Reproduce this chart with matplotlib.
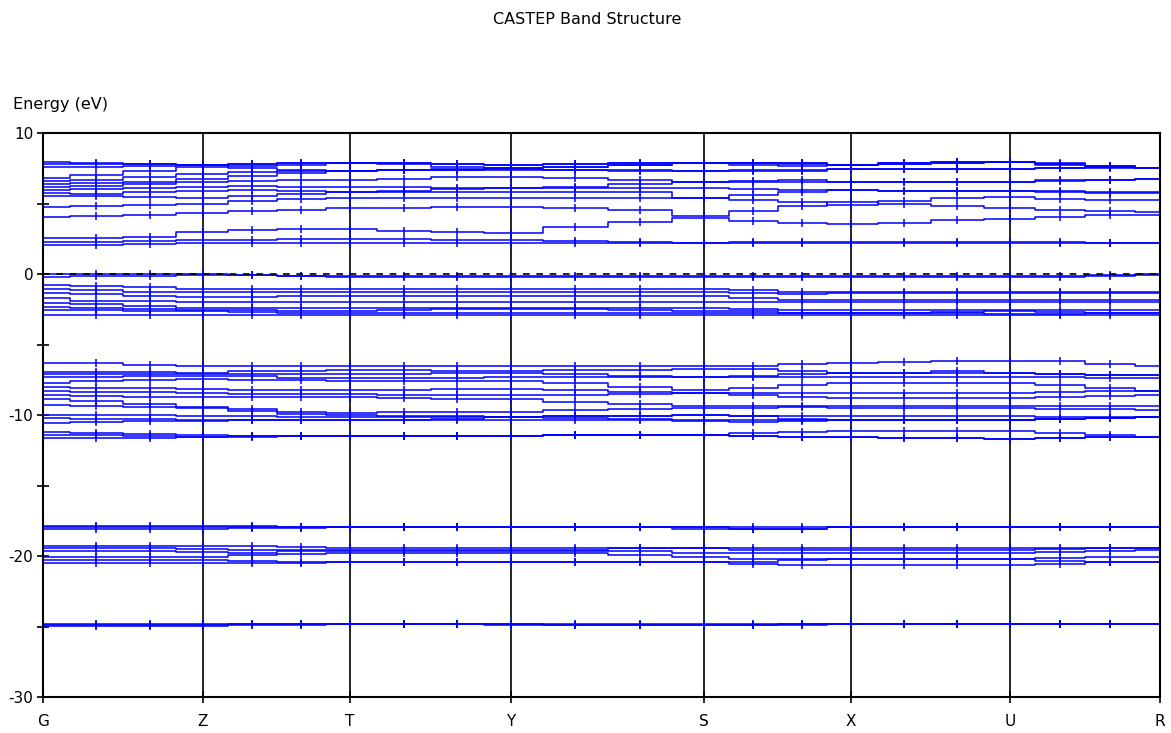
import numpy as np
import matplotlib
matplotlib.use('Agg')
import matplotlib.pyplot as plt

plt.rcParams['axes.unicode_minus'] = False

# high-symmetry points and path distances (1/A)
labels = ['G', 'Z', 'T', 'Y', 'S', 'X', 'U', 'R']
kdist = [0.0, 0.160, 0.307, 0.468, 0.661, 0.808, 0.967, 1.117]
n_per_seg = 3  # k-points between two labels

# band energies (eV) at the 22 k-points:
# G . . Z . . T . . Y . . S . . X . . U . . R
conduction = [
    [2.06, 2.06, 2.10, 2.20, 2.20, 2.20, 2.22, 2.22, 2.22, 2.22, 2.22, 2.22, 2.22, 2.22, 2.22, 2.22, 2.22, 2.22, 2.22, 2.22, 2.20, 2.18],
    [2.29, 2.29, 2.32, 2.38, 2.42, 2.45, 2.46, 2.46, 2.43, 2.41, 2.35, 2.28, 2.22, 2.25, 2.30, 2.30, 2.30, 2.30, 2.30, 2.25, 2.22, 2.20],
    [2.57, 2.55, 2.65, 2.95, 3.10, 3.20, 3.19, 3.05, 2.95, 2.93, 3.30, 3.70, 3.95, 3.75, 3.60, 3.55, 3.65, 3.80, 3.88, 4.05, 4.15, 4.18],
    [4.06, 4.10, 4.20, 4.30, 4.45, 4.55, 4.66, 4.70, 4.73, 4.73, 4.65, 4.55, 4.11, 4.50, 4.85, 5.13, 5.00, 4.80, 4.66, 4.55, 4.45, 4.42],
    [4.73, 4.80, 4.90, 5.00, 5.15, 5.30, 5.41, 5.38, 5.37, 5.37, 5.37, 5.37, 5.37, 5.25, 5.10, 4.89, 5.20, 5.40, 5.48, 5.35, 5.28, 5.25],
    [5.53, 5.50, 5.45, 5.40, 5.55, 5.70, 5.84, 5.84, 5.84, 5.84, 5.84, 5.84, 5.37, 5.60, 5.80, 5.96, 5.90, 5.90, 5.90, 5.85, 5.75, 5.72],
    [5.72, 5.70, 5.80, 5.90, 5.95, 5.90, 5.84, 5.90, 6.00, 6.08, 6.08, 6.08, 6.08, 6.00, 5.96, 5.96, 5.92, 5.90, 5.90, 5.88, 5.85, 5.84],
    [5.96, 6.00, 6.10, 6.20, 6.25, 6.20, 6.19, 6.15, 6.10, 6.08, 6.20, 6.35, 6.55, 6.55, 6.55, 6.55, 6.55, 6.55, 6.55, 6.60, 6.70, 6.72],
    [6.19, 6.25, 6.35, 6.50, 6.60, 6.65, 6.67, 6.75, 6.85, 6.90, 6.80, 6.65, 6.55, 6.60, 6.65, 6.55, 6.55, 6.55, 6.55, 6.65, 6.70, 6.72],
    [6.36, 6.45, 6.55, 6.75, 6.95, 7.15, 7.30, 7.35, 7.38, 7.38, 7.35, 7.32, 7.30, 7.35, 7.40, 7.42, 7.44, 7.45, 7.45, 7.50, 7.52, 7.54],
    [6.62, 6.70, 6.90, 7.10, 7.25, 7.30, 7.30, 7.40, 7.45, 7.50, 7.60, 7.75, 7.85, 7.75, 7.65, 7.73, 7.80, 7.88, 7.92, 7.70, 7.60, 7.54],
    [6.79, 7.00, 7.30, 7.60, 7.65, 7.75, 7.85, 7.80, 7.60, 7.50, 7.60, 7.75, 7.85, 7.85, 7.80, 7.73, 7.80, 7.88, 7.92, 7.85, 7.60, 7.54],
    [7.57, 7.60, 7.65, 7.70, 7.55, 7.40, 7.30, 7.35, 7.40, 7.45, 7.40, 7.35, 7.30, 7.30, 7.30, 7.42, 7.45, 7.45, 7.45, 7.55, 7.60, 7.54],
    [7.80, 7.80, 7.78, 7.75, 7.80, 7.85, 7.85, 7.85, 7.80, 7.75, 7.80, 7.85, 7.85, 7.88, 7.90, 7.73, 7.85, 7.92, 7.95, 7.80, 7.65, 7.54],
    [7.96, 7.90, 7.80, 7.75, 7.80, 7.85, 7.85, 7.85, 7.80, 7.75, 7.80, 7.85, 7.85, 7.88, 7.90, 7.73, 7.85, 7.92, 7.95, 7.80, 7.65, 7.54],
]

valence_top = [
    [0.00, 0.00, 0.00, 0.00, -0.05, -0.15, -0.15, -0.15, -0.15, -0.15, -0.15, -0.15, -0.15, -0.15, -0.15, -0.15, -0.15, -0.15, -0.15, -0.15, -0.05, 0.00],
    [-0.19, -0.15, -0.12, -0.10, -0.10, -0.15, -0.19, -0.19, -0.19, -0.19, -0.19, -0.19, -0.19, -0.19, -0.19, -0.19, -0.19, -0.19, -0.19, -0.19, -0.15, -0.10],
    [-0.78, -0.85, -0.95, -1.05, -1.05, -1.09, -1.09, -1.09, -1.09, -1.09, -1.09, -1.09, -1.09, -1.15, -1.25, -1.25, -1.25, -1.25, -1.25, -1.25, -1.25, -1.25],
    [-1.06, -1.10, -1.25, -1.30, -1.30, -1.30, -1.30, -1.30, -1.30, -1.30, -1.30, -1.30, -1.30, -1.37, -1.40, -1.37, -1.37, -1.37, -1.37, -1.37, -1.37, -1.37],
    [-1.37, -1.45, -1.55, -1.60, -1.60, -1.58, -1.56, -1.56, -1.56, -1.56, -1.56, -1.56, -1.56, -1.70, -1.84, -1.84, -1.84, -1.84, -1.84, -1.84, -1.84, -1.84],
    [-1.72, -1.90, -1.95, -1.96, -1.96, -1.96, -1.96, -1.96, -1.96, -1.96, -1.96, -1.96, -1.96, -1.96, -1.96, -1.96, -1.96, -1.96, -1.96, -1.96, -1.96, -1.96],
    [-2.08, -2.10, -2.30, -2.40, -2.40, -2.40, -2.40, -2.40, -2.40, -2.40, -2.40, -2.40, -2.40, -2.45, -2.55, -2.55, -2.55, -2.55, -2.55, -2.55, -2.55, -2.55],
    [-2.36, -2.40, -2.50, -2.55, -2.55, -2.60, -2.60, -2.55, -2.50, -2.50, -2.50, -2.55, -2.60, -2.65, -2.74, -2.74, -2.74, -2.70, -2.65, -2.70, -2.74, -2.74],
    [-2.55, -2.55, -2.60, -2.65, -2.70, -2.74, -2.74, -2.74, -2.74, -2.74, -2.74, -2.74, -2.74, -2.74, -2.74, -2.74, -2.74, -2.80, -2.85, -2.85, -2.80, -2.74],
    [-2.91, -2.91, -2.91, -2.91, -2.91, -2.91, -2.91, -2.91, -2.91, -2.91, -2.91, -2.91, -2.91, -2.91, -2.91, -2.91, -2.91, -2.91, -2.91, -2.91, -2.91, -2.91],
]

valence_mid = [
    [-6.34, -6.34, -6.45, -6.50, -6.50, -6.52, -6.52, -6.52, -6.52, -6.52, -6.52, -6.52, -6.52, -6.50, -6.40, -6.29, -6.25, -6.20, -6.15, -6.20, -6.35, -6.52],
    [-6.95, -6.95, -6.95, -7.00, -6.90, -6.85, -6.81, -6.84, -6.86, -6.86, -6.84, -6.80, -6.76, -6.76, -6.90, -7.04, -7.00, -6.90, -7.04, -7.10, -7.14, -7.16],
    [-7.10, -7.10, -7.10, -7.10, -7.10, -7.10, -7.09, -7.06, -7.04, -7.04, -7.10, -7.20, -7.33, -7.20, -7.10, -7.04, -7.04, -7.04, -7.04, -7.10, -7.14, -7.16],
    [-7.30, -7.30, -7.25, -7.20, -7.25, -7.35, -7.40, -7.38, -7.35, -7.33, -7.33, -7.33, -7.33, -7.30, -7.33, -7.33, -7.30, -7.28, -7.28, -7.32, -7.38, -7.40],
    [-7.70, -7.60, -7.50, -7.45, -7.50, -7.55, -7.57, -7.57, -7.57, -7.57, -7.75, -8.00, -8.20, -8.05, -7.90, -7.75, -7.75, -7.75, -7.75, -7.90, -8.10, -8.28],
    [-8.00, -8.05, -8.10, -8.15, -8.20, -8.23, -8.23, -8.20, -8.18, -8.18, -8.25, -8.35, -8.46, -8.46, -8.46, -8.46, -8.46, -8.46, -8.46, -8.40, -8.32, -8.28],
    [-8.30, -8.35, -8.40, -8.45, -8.50, -8.51, -8.51, -8.55, -8.58, -8.58, -8.55, -8.50, -8.46, -8.60, -8.75, -8.82, -8.82, -8.82, -8.82, -8.75, -8.65, -8.60],
    [-8.60, -8.65, -8.70, -8.74, -8.74, -8.74, -8.74, -8.80, -8.89, -8.89, -9.05, -9.20, -9.36, -9.36, -9.36, -9.36, -9.38, -9.39, -9.39, -9.38, -9.37, -9.36],
    [-8.90, -9.00, -9.20, -9.40, -9.60, -9.80, -9.88, -9.80, -9.77, -9.77, -9.65, -9.55, -9.52, -9.50, -9.45, -9.50, -9.50, -9.50, -9.50, -9.55, -9.60, -9.65],
    [-9.30, -9.35, -9.40, -9.50, -9.70, -9.90, -10.00, -10.05, -10.10, -10.16, -10.10, -10.05, -10.00, -10.05, -10.07, -10.07, -10.10, -10.10, -10.10, -10.12, -10.14, -10.16],
    [-10.00, -10.00, -10.00, -10.05, -10.10, -10.15, -10.16, -10.16, -10.16, -10.16, -10.10, -10.05, -10.00, -10.10, -10.25, -10.35, -10.35, -10.35, -10.35, -10.30, -10.20, -10.16],
    [-10.20, -10.25, -10.30, -10.35, -10.35, -10.35, -10.35, -10.35, -10.30, -10.16, -10.20, -10.30, -10.40, -10.50, -10.45, -10.35, -10.35, -10.35, -10.35, -10.30, -10.20, -10.16],
    [-10.54, -10.50, -10.45, -10.40, -10.38, -10.36, -10.35, -10.35, -10.35, -10.35, -10.35, -10.35, -10.35, -10.35, -10.35, -10.35, -10.35, -10.35, -10.35, -10.30, -10.20, -10.16],
    [-11.18, -11.25, -11.35, -11.45, -11.49, -11.49, -11.49, -11.49, -11.49, -11.49, -11.45, -11.42, -11.42, -11.30, -11.18, -11.11, -11.11, -11.11, -11.11, -11.30, -11.45, -11.54],
    [-11.40, -11.45, -11.50, -11.55, -11.50, -11.49, -11.49, -11.49, -11.49, -11.49, -11.45, -11.42, -11.42, -11.50, -11.55, -11.58, -11.62, -11.65, -11.68, -11.62, -11.58, -11.54],
    [-11.65, -11.62, -11.60, -11.58, -11.55, -11.50, -11.49, -11.49, -11.49, -11.49, -11.45, -11.42, -11.42, -11.50, -11.55, -11.58, -11.62, -11.65, -11.68, -11.62, -11.58, -11.54],
]

semicore = [
    [-17.85, -17.85, -17.85, -17.87, -17.90, -17.93, -17.95, -17.95, -17.95, -17.95, -17.95, -17.95, -17.95, -17.95, -17.95, -17.95, -17.95, -17.95, -17.95, -17.95, -17.95, -17.95],
    [-17.95, -17.95, -17.95, -17.95, -17.95, -17.95, -17.95, -17.95, -17.95, -17.95, -17.95, -17.95, -17.95, -18.05, -18.05, -17.95, -17.95, -17.95, -17.95, -17.95, -17.95, -17.95],
    [-18.05, -18.05, -18.05, -18.05, -18.02, -17.98, -17.95, -17.95, -17.95, -17.95, -17.95, -17.95, -18.05, -18.05, -18.05, -17.95, -17.95, -17.95, -17.95, -17.95, -17.95, -17.95],
    [-19.29, -19.29, -19.29, -19.29, -19.29, -19.35, -19.45, -19.45, -19.45, -19.45, -19.45, -19.45, -19.40, -19.40, -19.40, -19.40, -19.40, -19.40, -19.40, -19.40, -19.40, -19.45],
    [-19.45, -19.45, -19.45, -19.50, -19.55, -19.55, -19.60, -19.60, -19.60, -19.60, -19.60, -19.45, -19.45, -19.57, -19.57, -19.57, -19.57, -19.57, -19.57, -19.50, -19.45, -19.45],
    [-19.62, -19.62, -19.62, -19.70, -19.80, -19.65, -19.62, -19.62, -19.62, -19.62, -19.62, -19.65, -19.76, -19.76, -19.76, -19.76, -19.76, -19.76, -19.76, -19.70, -19.62, -19.60],
    [-20.09, -20.09, -20.09, -20.05, -19.95, -19.85, -19.80, -19.80, -19.80, -19.80, -19.80, -19.90, -20.10, -20.20, -20.23, -20.23, -20.23, -20.23, -20.23, -20.15, -20.10, -20.05],
    [-20.28, -20.28, -20.28, -20.28, -20.35, -20.45, -20.45, -20.45, -20.45, -20.45, -20.45, -20.45, -20.45, -20.40, -20.30, -20.23, -20.23, -20.23, -20.23, -20.35, -20.45, -20.45],
    [-20.52, -20.52, -20.52, -20.52, -20.50, -20.48, -20.45, -20.45, -20.45, -20.45, -20.45, -20.45, -20.45, -20.55, -20.64, -20.64, -20.64, -20.64, -20.64, -20.55, -20.45, -20.45],
    [-24.80, -24.80, -24.80, -24.80, -24.80, -24.80, -24.80, -24.80, -24.80, -24.80, -24.80, -24.80, -24.80, -24.80, -24.80, -24.80, -24.80, -24.80, -24.80, -24.80, -24.80, -24.80],
    [-24.88, -24.88, -24.88, -24.88, -24.85, -24.82, -24.80, -24.80, -24.80, -24.85, -24.88, -24.88, -24.88, -24.88, -24.85, -24.80, -24.80, -24.80, -24.80, -24.80, -24.80, -24.80],
    [-24.95, -24.95, -24.95, -24.95, -24.92, -24.88, -24.85, -24.85, -24.85, -24.88, -24.92, -24.92, -24.92, -24.92, -24.88, -24.80, -24.80, -24.80, -24.80, -24.80, -24.80, -24.80],
]

bands = conduction + valence_top + valence_mid + semicore

# k-point positions along the path
kx = [kdist[0]]
for a, b in zip(kdist[:-1], kdist[1:]):
    kx.extend(np.linspace(a, b, n_per_seg + 1)[1:])
kx = np.array(kx)

fig = plt.figure(figsize=(11.71, 7.33), dpi=100)
ax = fig.add_axes([43 / 1171, 36 / 733, 1117 / 1171, 564 / 733])

for e in bands:
    ax.plot(kx, e, color='#0000ff', lw=1.1, drawstyle='steps-mid',
            marker='|', ms=6, mew=1.1, zorder=2)

ax.axhline(0, color='black', ls=(0, (4, 4)), lw=1.2, zorder=3)
for k in kdist[1:-1]:
    ax.axvline(k, color='black', lw=1.2, zorder=1)

ax.set_xlim(kdist[0], kdist[-1])
ax.set_ylim(-30, 10)
ax.set_xticks(kdist)
ax.set_xticklabels(labels)
ax.set_yticks([-30, -20, -10, 0, 10])
ax.set_yticks([-25, -15, -5, 5], minor=True)
ax.tick_params(axis='both', which='both', direction='inout', color='black',
               labelsize=11, width=1.2)
ax.tick_params(axis='x', which='major', length=8, pad=8)
ax.tick_params(axis='y', which='major', length=8, pad=3)
ax.tick_params(axis='y', which='minor', length=8)
for s in ax.spines.values():
    s.set_linewidth(1.5)
    s.set_color('black')

fig.text(587 / 1171, 1 - 20 / 733, 'CASTEP Band Structure', ha='center',
         va='center', fontsize=11.5)
fig.text(13 / 1171, 1 - 104 / 733, 'Energy (eV)', ha='left', va='center',
         fontsize=11.5)

fig.savefig('out.png', dpi=100)
